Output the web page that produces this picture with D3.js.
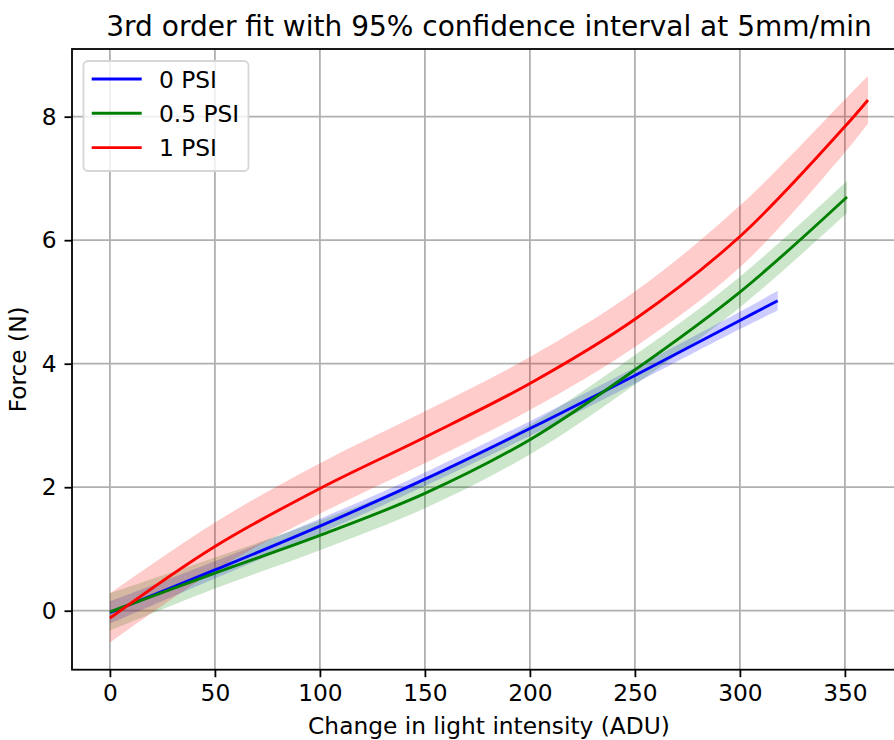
<!DOCTYPE html>
<html>
<head>
<meta charset="utf-8">
<script src="https://cdn.jsdelivr.net/npm/d3@7"></script>
<style>
  body { margin: 0; background: #fff; }
  svg { display: block; font-family: "DejaVu Sans", sans-serif; }
</style>
</head>
<body>
<svg width="894" height="740"></svg>
<script>
// values
var psi0_x = [0, 50, 100, 150, 200, 250, 300, 318];
var psi0_y = [-0.03, 0.66, 1.37, 2.13, 2.95, 3.81, 4.70, 5.02];
var psi0_lo = [-0.21, 0.52, 1.25, 2.02, 2.83, 3.68, 4.56, 4.86];
var psi0_hi = [0.15, 0.80, 1.49, 2.24, 3.07, 3.94, 4.84, 5.18];

var psi05_x = [0, 50, 100, 150, 200, 250, 300, 351];
var psi05_y = [-0.02, 0.61, 1.22, 1.90, 2.77, 3.90, 5.16, 6.70];
var psi05_lo = [-0.32, 0.36, 0.98, 1.66, 2.53, 3.66, 4.91, 6.44];
var psi05_hi = [0.28, 0.86, 1.46, 2.14, 3.01, 4.14, 5.41, 6.96];

var psi1_x = [0, 50, 100, 150, 200, 250, 300, 350, 361];
var psi1_y = [-0.12, 1.04, 1.98, 2.81, 3.68, 4.72, 6.06, 7.84, 8.27];
var psi1_lo = [-0.52, 0.65, 1.57, 2.39, 3.25, 4.27, 5.56, 7.42, 7.89];
var psi1_hi = [0.28, 1.43, 2.39, 3.23, 4.11, 5.17, 6.56, 8.28, 8.66];

var xTicks = [0, 50, 100, 150, 200, 250, 300, 350];
var yTicks = [0, 2, 4, 6, 8];

var series = [
    {name: "0 PSI", color: "#0000ff", x: psi0_x, y: psi0_y, lo: psi0_lo, hi: psi0_hi},
    {name: "0.5 PSI", color: "#008000", x: psi05_x, y: psi05_y, lo: psi05_lo, hi: psi05_hi},
    {name: "1 PSI", color: "#ff0000", x: psi1_x, y: psi1_y, lo: psi1_lo, hi: psi1_hi}
];

window.onload = function() {
    draw_chart();
};

function draw_chart() {
    var svg = d3.select("svg");
    var m = {left: 72, right: 906, top: 49, bottom: 669.7};
    var fs = 23.3;
    var smooth = d3.curveCatmullRom.alpha(0.5);

    var x = d3.scaleLinear().domain([-18.05, 379.1]).range([m.left, m.right]);
    var y = d3.scaleLinear().domain([-0.955, 9.096]).range([m.bottom, m.top]);

    svg.append("defs").append("clipPath").attr("id", "clip")
        .append("rect")
        .attr("x", m.left).attr("y", m.top)
        .attr("width", m.right - m.left).attr("height", m.bottom - m.top);

    // grid
    var grid = svg.append("g");
    grid.selectAll(".gx").data(xTicks).enter().append("line")
        .attr("x1", function(d) { return x(d); })
        .attr("x2", function(d) { return x(d); })
        .attr("y1", m.top).attr("y2", m.bottom)
        .attr("stroke", "#b0b0b0").attr("stroke-width", 1.8);
    grid.selectAll(".gy").data(yTicks).enter().append("line")
        .attr("x1", m.left).attr("x2", m.right)
        .attr("y1", function(d) { return y(d); })
        .attr("y2", function(d) { return y(d); })
        .attr("stroke", "#b0b0b0").attr("stroke-width", 1.8);

    var plot = svg.append("g").attr("clip-path", "url(#clip)");

    // confidence bands
    series.forEach(function(s) {
        var pts = s.x.map(function(v, i) { return {x: v, lo: s.lo[i], hi: s.hi[i]}; });
        var area = d3.area()
            .x(function(d) { return x(d.x); })
            .y0(function(d) { return y(d.lo); })
            .y1(function(d) { return y(d.hi); })
            .curve(smooth);
        plot.append("path")
            .datum(pts)
            .attr("d", area)
            .attr("fill", s.color)
            .attr("fill-opacity", 0.2);
    });

    // fitted lines
    series.forEach(function(s) {
        var pts = s.x.map(function(v, i) { return {x: v, y: s.y[i]}; });
        var line = d3.line()
            .x(function(d) { return x(d.x); })
            .y(function(d) { return y(d.y); })
            .curve(smooth);
        plot.append("path")
            .datum(pts)
            .attr("d", line)
            .attr("fill", "none")
            .attr("stroke", s.color)
            .attr("stroke-width", 2.9);
    });

    // axes
    var xAxis = svg.append("g")
        .attr("transform", "translate(0," + m.bottom + ")")
        .call(d3.axisBottom(x).tickValues(xTicks).tickSize(7.5).tickPadding(7.5));
    var yAxis = svg.append("g")
        .attr("transform", "translate(" + m.left + ",0)")
        .call(d3.axisLeft(y).tickValues(yTicks).tickSize(7.5).tickPadding(8));

    [xAxis, yAxis].forEach(function(a) {
        a.select(".domain").remove();
        a.selectAll(".tick line").attr("stroke", "#000").attr("stroke-width", 1.8);
        a.selectAll(".tick text")
            .attr("fill", "#000")
            .attr("font-size", fs)
            .attr("font-family", "DejaVu Sans");
    });

    // spines
    svg.append("rect")
        .attr("x", m.left).attr("y", m.top)
        .attr("width", m.right - m.left).attr("height", m.bottom - m.top)
        .attr("fill", "none").attr("stroke", "#000").attr("stroke-width", 1.8);

    // title and labels
    svg.append("text")
        .attr("x", (m.left + m.right) / 2).attr("y", 36)
        .attr("text-anchor", "middle")
        .attr("font-size", 28)
        .text("3rd order fit with 95% confidence interval at 5mm/min");

    svg.append("text")
        .attr("x", (m.left + m.right) / 2).attr("y", 734)
        .attr("text-anchor", "middle")
        .attr("font-size", fs)
        .text("Change in light intensity (ADU)");

    svg.append("text")
        .attr("transform", "translate(26," + ((m.top + m.bottom) / 2) + ") rotate(-90)")
        .attr("text-anchor", "middle")
        .attr("font-size", fs)
        .text("Force (N)");

    // legend
    var legend = svg.append("g");
    legend.append("rect")
        .attr("x", 83.5).attr("y", 61)
        .attr("width", 165).attr("height", 110)
        .attr("rx", 4.5)
        .attr("fill", "#fff").attr("fill-opacity", 0.8)
        .attr("stroke", "#d6d6d6").attr("stroke-width", 1.8);

    var item = legend.selectAll(".item").data(series).enter().append("g")
        .attr("transform", function(d, i) { return "translate(0," + (79 + i * 34.3) + ")"; });
    item.append("line")
        .attr("x1", 91.7).attr("x2", 141.7)
        .attr("stroke", function(d) { return d.color; })
        .attr("stroke-width", 2.9);
    item.append("text")
        .attr("x", 159)
        .attr("y", 8.5)
        .attr("font-size", fs)
        .text(function(d) { return d.name; });
}
</script>
</body>
</html>
